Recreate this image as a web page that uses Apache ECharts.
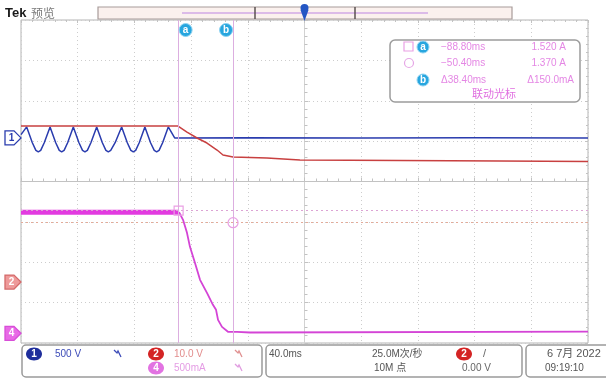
<!DOCTYPE html>
<html>
<head>
<meta charset="utf-8">
<script src="https://cdn.jsdelivr.net/npm/echarts@6.0.0/dist/echarts.min.js"></script>
<style>
  html, body { margin: 0; padding: 0; background: #fff; }
  #main { width: 606px; height: 380px; }
</style>
</head>
<body>
<div id="main"></div>
<script>
// Horizontal scale: 40 ms/div, 10 divisions, trigger at centre
const timeRange = [-200, 200];
const timePerDiv = 40;

// Vertical settings per channel: units per division and ground position (div above centre)
const ch1Scale = 500;   // V/div
const ch1Pos = 1.08;
const ch2Scale = 10;    // V/div
const ch2Pos = -2.49;
const ch4Scale = 0.5;   // A/div
const ch4Pos = -3.76;

// Channel 1: line voltage [ms, V]
const ch1Trace = [
  [-200, 40],
  [-196.0, 136], [-192.0, -60], [-189.5, -155], [-187.8, -173], [-186.1, -155], [-183.6, -60],
  [-179.5, 136], [-175.5, -60], [-173.0, -155], [-171.3, -173], [-169.6, -155], [-167.1, -60],
  [-163.1, 136], [-159.1, -60], [-156.6, -155], [-154.9, -173], [-153.2, -155], [-150.7, -60],
  [-146.6, 136], [-142.6, -60], [-140.1, -155], [-138.4, -173], [-136.7, -155], [-133.6, -60],
  [-129.0, 136], [-125.0, -60], [-122.5, -155], [-120.8, -173], [-119.1, -155], [-116.6, -60],
  [-112.6, 136], [-108.6, -60], [-106.0, -155], [-104.3, -173], [-102.6, -155], [-100.1, -60],
  [-96.1, 136], [-91.6, 0],
  [-40, 2], [40, 0], [120, 2], [200, 0]
];

// Channel 2: supply voltage [ms, V]
const ch2Trace = [
  [-200, 38.64], [-89.2, 38.64], [-82.9, 37.15], [-75.8, 35.67], [-68.8, 34.43],
  [-61.7, 32.69], [-57.5, 31.46], [-50.4, 30.96], [-26.5, 30.71], [-3.2, 30.22],
  [67.4, 30.09], [137.9, 29.97], [200, 29.85]
];

// Channel 4: load current [ms, A]
const ch4Ripple = [[-200, 1.50], [-88.5, 1.50]];
const ch4Trace = [
  [-88.5, 1.50], [-85.7, 1.405], [-82.9, 1.244], [-80.8, 1.071], [-77.3, 0.873],
  [-73.7, 0.662], [-68.8, 0.50], [-64.6, 0.353], [-62.4, 0.291], [-61.0, 0.167],
  [-58.2, 0.080], [-54.0, 0.019], [-47.6, 0.019], [-38.4, 0.010], [200, 0.020]
];

// Cursors a / b
const cursorTimes = [-88.8, -50.4];   // ms
const cursorAmps = [1.520, 1.370];    // A

const chAxis = (scale, pos) => ({
  type: 'value', show: false,
  min: (-4 - pos) * scale, max: (4 - pos) * scale
});

const tickColor = '#c2c2c2';
const chart = echarts.init(document.getElementById('main'));

chart.setOption({
  animation: false,
  backgroundColor: '#fff',
  grid: { left: 21, top: 20, width: 567, height: 323, show: true, borderColor: '#b4b4b4', borderWidth: 1, backgroundColor: '#fff' },
  xAxis: [
    {
      type: 'value', min: timeRange[0], max: timeRange[1], interval: timePerDiv, position: 'bottom',
      axisLine: { show: true, onZero: true, onZeroAxisIndex: 0, lineStyle: { color: tickColor } },
      axisTick: { show: true, inside: true, length: 4, lineStyle: { color: tickColor } },
      minorTick: { show: true, splitNumber: 5, length: 3, lineStyle: { color: tickColor } },
      axisLabel: { show: false },
      splitLine: { show: true, lineStyle: { color: '#cdcdcd', type: [1, 3] } }
    },
    {
      type: 'value', min: timeRange[0], max: timeRange[1], interval: timePerDiv, position: 'top',
      axisLine: { show: false, onZero: false },
      axisTick: { show: true, inside: true, length: 3, lineStyle: { color: tickColor } },
      minorTick: { show: true, splitNumber: 5, length: 2, lineStyle: { color: tickColor } },
      axisLabel: { show: false }, splitLine: { show: false }
    }
  ],
  yAxis: [
    {
      type: 'value', min: -4, max: 4, interval: 1, position: 'left',
      axisLine: { show: true, onZero: true, onZeroAxisIndex: 0, lineStyle: { color: '#d2d2d2' } },
      axisTick: { show: true, inside: true, length: 4, lineStyle: { color: tickColor } },
      minorTick: { show: true, splitNumber: 5, length: 3, lineStyle: { color: tickColor } },
      axisLabel: { show: false },
      splitLine: { show: true, lineStyle: { color: '#cdcdcd', type: [1, 3] } }
    },
    {
      type: 'value', min: -4, max: 4, interval: 1, position: 'right',
      axisLine: { show: false, onZero: false },
      axisTick: { show: true, inside: true, length: 3, lineStyle: { color: tickColor } },
      minorTick: { show: true, splitNumber: 5, length: 2, lineStyle: { color: tickColor } },
      axisLabel: { show: false }, splitLine: { show: false }
    },
    chAxis(ch1Scale, ch1Pos),
    chAxis(ch2Scale, ch2Pos),
    chAxis(ch4Scale, ch4Pos)
  ],
  series: [
    {
      name: 'CH1', type: 'line', xAxisIndex: 0, yAxisIndex: 2, data: ch1Trace,
      showSymbol: false, lineStyle: { color: '#2a3cae', width: 1.5 }, silent: true
    },
    {
      name: 'CH2', type: 'line', xAxisIndex: 0, yAxisIndex: 3, data: ch2Trace,
      showSymbol: false, lineStyle: { color: '#c84040', width: 1.5 }, silent: true
    },
    {
      name: 'CH4 ripple', type: 'line', xAxisIndex: 0, yAxisIndex: 4, data: ch4Ripple,
      showSymbol: false, lineStyle: { color: '#e23be0', width: 5 }, silent: true
    },
    {
      name: 'CH4', type: 'line', xAxisIndex: 0, yAxisIndex: 4, data: ch4Trace,
      showSymbol: false, lineStyle: { color: '#d444d6', width: 1.8 }, silent: true,
      markLine: {
        silent: true, symbol: 'none', label: { show: false },
        data: [
          { xAxis: cursorTimes[0], lineStyle: { color: '#dcaee0', type: 'solid', width: 1 } },
          { xAxis: cursorTimes[1], lineStyle: { color: '#dcaee0', type: 'solid', width: 1 } },
          { yAxis: cursorAmps[0], lineStyle: { color: '#dca4d4', type: [2, 3], width: 1 } },
          { yAxis: cursorAmps[1], lineStyle: { color: '#e4aa98', type: [2, 3], width: 1 } }
        ]
      },
      markPoint: {
        silent: true, label: { show: false },
        data: [
          { coord: [cursorTimes[0], cursorAmps[0]], symbol: 'rect', symbolSize: 9,
            itemStyle: { color: 'rgba(255,255,255,0)', borderColor: '#eaa0e4', borderWidth: 1.2 } },
          { coord: [cursorTimes[1], cursorAmps[1]], symbol: 'circle', symbolSize: 10,
            itemStyle: { color: 'rgba(255,255,255,0)', borderColor: '#e8a0e4', borderWidth: 1.2 } }
        ]
      }
    }
  ]
});

// Pixel positions used by the decorations
const xA = chart.convertToPixel({ xAxisIndex: 0 }, cursorTimes[0]);
const xB = chart.convertToPixel({ xAxisIndex: 0 }, cursorTimes[1]);
const xTrig = chart.convertToPixel({ xAxisIndex: 0 }, 0);
const gnd1 = chart.convertToPixel({ yAxisIndex: 2 }, 0);
const gnd2 = chart.convertToPixel({ yAxisIndex: 3 }, 0);
const gnd4 = chart.convertToPixel({ yAxisIndex: 4 }, 0);

const font = 'Liberation Sans, DejaVu Sans, sans-serif';
const cjk = '"Noto Sans CJK SC", sans-serif';
const pink = '#e487e4';

function badge(x, y, letter, fill, r) {
  return [
    { type: 'circle', shape: { cx: x, cy: y, r: r || 6.5 }, style: { fill: fill, stroke: '#8fd3f2', lineWidth: 1 }, z: 100 },
    { type: 'text', x: x, y: y, style: { text: letter, fill: '#fff', font: 'bold 10px ' + font, align: 'center', verticalAlign: 'middle' }, z: 101 }
  ];
}
function chanBadge(x, y, label, fill) {
  return [
    { type: 'ellipse', shape: { cx: x, cy: y, rx: 8, ry: 6.5 }, style: { fill: fill }, z: 100 },
    { type: 'text', x: x, y: y, style: { text: label, fill: '#fff', font: 'bold 10px ' + font, align: 'center', verticalAlign: 'middle' }, z: 101 }
  ];
}
function chanMarker(y, label, fill, stroke, textFill) {
  return [
    { type: 'polygon', shape: { points: [[5, y - 7], [14, y - 7], [21, y], [14, y + 7], [5, y + 7]] },
      style: { fill: fill, stroke: stroke, lineWidth: 1.3 }, z: 100 },
    { type: 'text', x: 11.5, y: y, style: { text: label, fill: textFill, font: 'bold 10px ' + font, align: 'center', verticalAlign: 'middle' }, z: 101 }
  ];
}
function bwIcon(x, y, color) {
  return { type: 'polyline', shape: { points: [[x - 3, y - 4], [x, y - 1], [x + 1, y - 3], [x + 4, y + 3]] },
    style: { stroke: color, lineWidth: 1.3, fill: null }, z: 100 };
}
function txt(x, y, text, fill, size, align, family) {
  return { type: 'text', x: x, y: y, style: { text: text, fill: fill, font: (size || 10) + 'px ' + (family || font),
    align: align || 'left', verticalAlign: 'middle' }, z: 101 };
}

const dt = cursorTimes[1] - cursorTimes[0];
const di = (cursorAmps[0] - cursorAmps[1]) * 1000;

const graphics = [].concat(
  // header
  [
    { type: 'text', x: 5, y: 13, style: { text: 'Tek', fill: '#1a1a1a', font: 'bold 13px ' + font, verticalAlign: 'middle' } },
    { type: 'text', x: 31, y: 13, style: { text: '预览', fill: '#7a7a7a', font: '12px ' + cjk, verticalAlign: 'middle' } },
    { type: 'rect', shape: { x: 98, y: 7, width: 414, height: 12 }, style: { fill: '#fbf1ee', stroke: '#a89c9a', lineWidth: 1.2 } },
    { type: 'line', shape: { x1: 182, y1: 13, x2: 428, y2: 13 }, style: { stroke: '#dcbbe8', lineWidth: 2 } },
    { type: 'line', shape: { x1: 255, y1: 7, x2: 255, y2: 19 }, style: { stroke: '#5a5050', lineWidth: 1.5 } },
    { type: 'line', shape: { x1: 355, y1: 7, x2: 355, y2: 19 }, style: { stroke: '#5a5050', lineWidth: 1.5 } },
    { type: 'circle', shape: { cx: xTrig, cy: 8, r: 4 }, style: { fill: '#2456c4' }, z: 102 },
    { type: 'polygon', shape: { points: [[xTrig - 4, 10], [xTrig + 4, 10], [xTrig, 21]] }, style: { fill: '#2456c4' }, z: 102 }
  ],
  // cursor badges
  badge(xA + 7, 30, 'a', '#27a6df'),
  badge(xB - 7, 30, 'b', '#27a6df'),
  // cursor readout
  [
    { type: 'rect', shape: { x: 390, y: 40, width: 190, height: 62, r: 5 }, style: { fill: '#fff', stroke: '#9c9c9c', lineWidth: 1.5 }, z: 99 },
    { type: 'rect', shape: { x: 404, y: 42, width: 9, height: 9 }, style: { fill: 'rgba(0,0,0,0)', stroke: '#eaa0e4', lineWidth: 1.2 }, z: 100 },
    { type: 'circle', shape: { cx: 409, cy: 63, r: 4.5 }, style: { fill: 'rgba(0,0,0,0)', stroke: '#e6a6e6', lineWidth: 1.2 }, z: 100 }
  ],
  badge(423, 47, 'a', '#27a6df', 6),
  badge(423, 80, 'b', '#27a6df', 6),
  [
    txt(441, 47, '\u2212' + Math.abs(cursorTimes[0]).toFixed(2) + 'ms', pink),
    txt(566, 47, cursorAmps[0].toFixed(3) + ' A', pink, 10, 'right'),
    txt(441, 63.5, '\u2212' + Math.abs(cursorTimes[1]).toFixed(2) + 'ms', pink),
    txt(566, 63.5, cursorAmps[1].toFixed(3) + ' A', pink, 10, 'right'),
    txt(441, 80, '\u0394' + dt.toFixed(2) + 'ms', pink),
    txt(574, 80, '\u0394' + di.toFixed(1) + 'mA', pink, 10, 'right'),
    txt(494, 94, '联动光标', '#e070e0', 11, 'center', cjk)
  ],
  // channel ground markers
  chanMarker(gnd1, '1', '#fff', '#2a3cae', '#2a3cae'),
  chanMarker(gnd2, '2', '#ee9a9a', '#d46a6a', '#fff'),
  chanMarker(gnd4, '4', '#e86ae6', '#d84ed8', '#fff'),
  // bottom status boxes
  [
    { type: 'rect', shape: { x: 22, y: 345, width: 240, height: 32, r: 4 }, style: { fill: '#fff', stroke: '#9a9a9a', lineWidth: 1.5 } },
    { type: 'rect', shape: { x: 266, y: 345, width: 256, height: 32, r: 4 }, style: { fill: '#fff', stroke: '#9a9a9a', lineWidth: 1.5 } },
    { type: 'rect', shape: { x: 526, y: 345, width: 90, height: 32, r: 4 }, style: { fill: '#fff', stroke: '#9a9a9a', lineWidth: 1.5 } }
  ],
  chanBadge(34, 354, '1', '#1f2e9c'),
  chanBadge(156, 354, '2', '#d42424'),
  chanBadge(156, 368, '4', '#e273e2'),
  chanBadge(464, 354, '2', '#d42424'),
  [
    txt(55, 354, '500 V', '#3d4cb8'),
    bwIcon(117, 354, '#3d4cb8'),
    txt(174, 354, '10.0 V', '#e28c8c'),
    bwIcon(238, 354, '#e09090'),
    txt(174, 368, '500mA', '#e49ce4'),
    bwIcon(238, 368, '#e09ce0'),
    txt(269, 354, '40.0ms', '#555'),
    txt(372, 354, '25.0M次/秒', '#555', 10, 'left', 'Liberation Sans, "Noto Sans CJK SC", sans-serif'),
    txt(374, 368, '10M 点', '#555', 10, 'left', 'Liberation Sans, "Noto Sans CJK SC", sans-serif'),
    txt(483, 354, '/', '#666', 11),
    txt(462, 368, '0.00 V', '#666'),
    txt(547, 354, '6 7月 2022', '#555', 11, 'left', 'Liberation Sans, "Noto Sans CJK SC", sans-serif'),
    txt(545, 368, '09:19:10', '#555')
  ]
);

chart.setOption({ graphic: graphics });
</script>
</body>
</html>
